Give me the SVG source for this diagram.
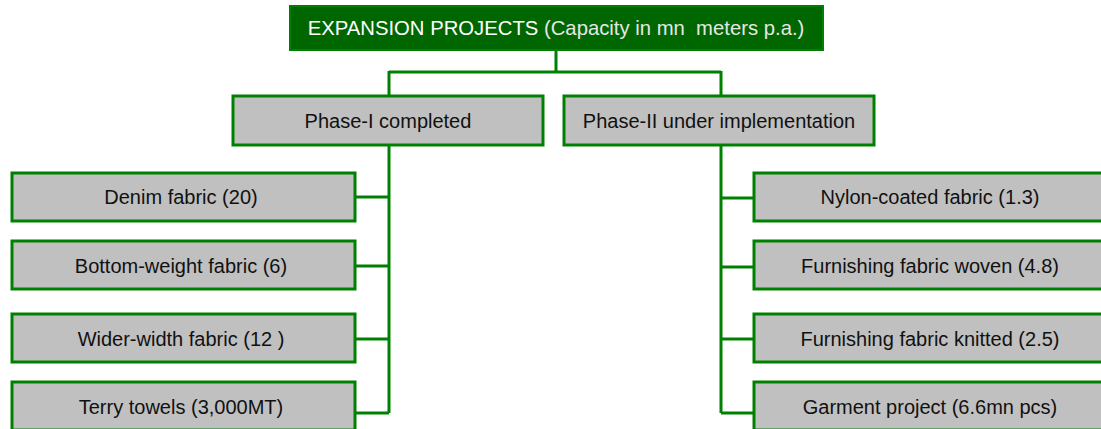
<svg xmlns="http://www.w3.org/2000/svg" width="1101" height="429" viewBox="0 0 1101 429">
<style>
.box{fill:#C0C0C0;stroke:#008000;stroke-width:3}
.lbl{font-family:"Liberation Sans",Arial,sans-serif;font-size:20px;fill:#111;text-anchor:middle}
.con{stroke:#008000;stroke-width:3;fill:none}
</style>
<rect width="1101" height="429" fill="#fff"/>
<g id="connectors">
<path class="con" d="M556 50V72M389 72H721M389 71V95M721 71V95"/>
<path class="con" d="M389 145V413M355 197H389M355 266H389M355 339H389M355 413H389"/>
<path class="con" d="M721 145V413M721 198H754M721 267H754M721 339H754M721 413H754"/>
</g>
<g id="root">
<rect x="290" y="6" width="533" height="44" fill="#006600" stroke="#008000" stroke-width="2"/>
<text x="556" y="35" class="lbl" style="fill:#fff;white-space:pre;font-size:20.3px" xml:space="preserve"><tspan>EXPANSION PROJECTS</tspan><tspan style="fill:#e6e6e6"> (Capacity in mn  meters p.a.)</tspan></text>
</g>
<g id="phase1"><rect class="box" x="233" y="96" width="310" height="49"/><text x="388" y="128" class="lbl">Phase-I completed</text></g>
<g id="phase2"><rect class="box" x="564" y="96" width="310" height="49"/><text x="719" y="128" class="lbl">Phase-II under implementation</text></g>
<g id="denim"><rect class="box" x="12" y="173" width="343" height="48"/><text x="181" y="204" class="lbl">Denim fabric (20)</text></g>
<g id="bottom"><rect class="box" x="12" y="241" width="343" height="48"/><text x="181" y="273" class="lbl">Bottom-weight fabric (6)</text></g>
<g id="wider"><rect class="box" x="12" y="314" width="343" height="48"/><text x="181" y="346" class="lbl">Wider-width fabric (12 )</text></g>
<g id="terry"><rect class="box" x="12" y="382" width="343" height="48"/><text x="181" y="414" class="lbl">Terry towels (3,000MT)</text></g>
<g id="nylon"><rect class="box" x="754" y="173" width="352" height="48"/><text x="930" y="204" class="lbl">Nylon-coated fabric (1.3)</text></g>
<g id="woven"><rect class="box" x="754" y="241" width="352" height="48"/><text x="930" y="273" class="lbl">Furnishing fabric woven (4.8)</text></g>
<g id="knitted"><rect class="box" x="754" y="314" width="352" height="48"/><text x="930" y="346" class="lbl">Furnishing fabric knitted (2.5)</text></g>
<g id="garment"><rect class="box" x="754" y="382" width="352" height="48"/><text x="930" y="414" class="lbl">Garment project (6.6mn pcs)</text></g>
</svg>
